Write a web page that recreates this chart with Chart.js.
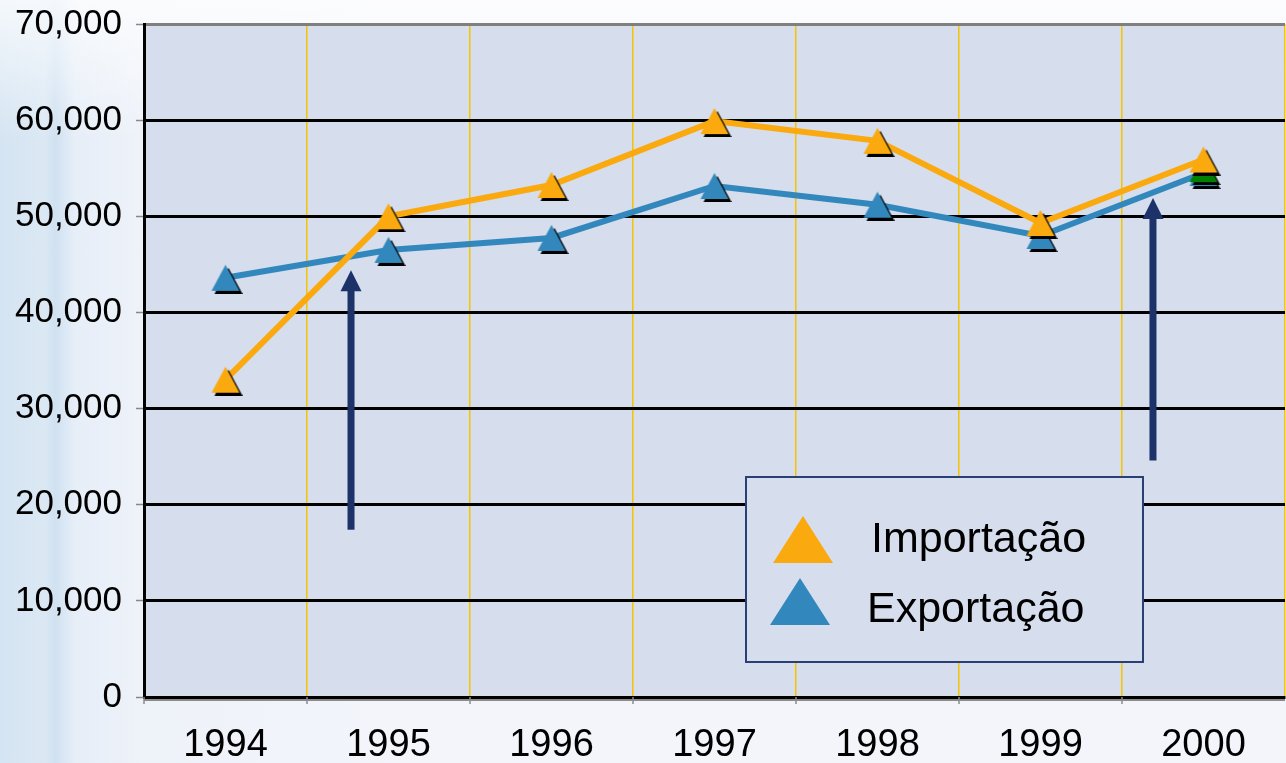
<!DOCTYPE html>
<html>
<head>
<meta charset="utf-8">
<script src="https://cdn.jsdelivr.net/npm/chart.js@4"></script>
<style>
  html, body { margin: 0; padding: 0; }
  body {
    width: 1286px;
    height: 763px;
    overflow: hidden;
    background:
      linear-gradient(180deg, rgba(255,255,255,0.75) 0px, rgba(255,255,255,0) 140px),
      linear-gradient(90deg, #d5e4f2 0px, #dbe8f4 45px, #d0e1f1 55px, #e6eef8 75px, #eef2f9 140px, #f3f5fb 400px);
    font-family: "Liberation Sans", Arial, sans-serif;
  }
  canvas { position: absolute; left: 0; top: 0; }
</style>
</head>
<body>
<canvas id="chart" width="1286" height="763"></canvas>
<script>
const years = ["1994", "1995", "1996", "1997", "1998", "1999", "2000"];
const importacao = [33000, 50000, 53250, 59900, 57850, 49300, 55900];
const exportacao = [43600, 46500, 47750, 53150, 51200, 47950, 54500];
const extra2000 = [null, null, null, null, null, null, 54900];

const yMin = 0;
const yMax = 70000;
const yStep = 10000;

// arrows in data units: x is the category index, y from / to
const arrowX = [0.77, 5.69];
const arrowFrom = [17400, 24600];
const arrowTo = [44400, 51900];

const plotBg = "#d6ddec";
const orange = "#faa90e";
const blue = "#3288bd";
const green = "#008000";
const navy = "#1c3268";

function triangleMarker(color, w, h) {
  const pad = 3;
  const c = document.createElement("canvas");
  c.width = w + pad * 2;
  c.height = h + pad * 2;
  const ctx = c.getContext("2d");
  const tri = (dx, dy, fill) => {
    ctx.beginPath();
    ctx.moveTo(dx + w / 2, dy);
    ctx.lineTo(dx + w, dy + h);
    ctx.lineTo(dx, dy + h);
    ctx.closePath();
    ctx.fillStyle = fill;
    ctx.fill();
  };
  tri(pad * 2, pad * 2, "#000");
  tri(pad, pad, color);
  return c;
}

const plotBackground = {
  id: "plotBackground",
  beforeDraw(chart) {
    const { ctx, chartArea: a } = chart;
    ctx.save();
    ctx.fillStyle = plotBg;
    ctx.fillRect(a.left, a.top, a.right - a.left, a.bottom - a.top);
    ctx.restore();
  },
  afterDraw(chart) {
    const { ctx, chartArea: a, scales } = chart;
    ctx.save();
    ctx.strokeStyle = "#8a8a8a";
    ctx.lineWidth = 2;
    ctx.beginPath();
    ctx.moveTo(a.left, a.bottom + 3);
    ctx.lineTo(a.right, a.bottom + 3);
    ctx.stroke();
    // short tick marks between categories under the x axis
    ctx.lineWidth = 1.5;
    ctx.beginPath();
    for (let i = 0; i < years.length; i++) {
      const x = scales.x.getPixelForValue(i - 0.5);
      ctx.moveTo(x, a.bottom);
      ctx.lineTo(x, a.bottom + 7);
    }
    ctx.stroke();
    ctx.restore();
  }
};

const arrows = {
  id: "arrows",
  afterDatasetsDraw(chart) {
    const { ctx, scales } = chart;
    ctx.save();
    ctx.fillStyle = navy;
    arrowX.forEach((xv, i) => {
      const x = scales.x.getPixelForValue(xv);
      const y0 = scales.y.getPixelForValue(arrowFrom[i]);
      const y1 = scales.y.getPixelForValue(arrowTo[i]);
      const head = 21;
      ctx.fillRect(x - 3.5, y1 + head - 1, 7, y0 - y1 - head + 1);
      ctx.beginPath();
      ctx.moveTo(x, y1);
      ctx.lineTo(x + 10.5, y1 + head);
      ctx.lineTo(x - 10.5, y1 + head);
      ctx.closePath();
      ctx.fill();
    });
    ctx.restore();
  }
};

const legendBox = {
  id: "legendBox",
  afterDraw(chart) {
    const { ctx } = chart;
    ctx.save();
    ctx.fillStyle = plotBg;
    ctx.fillRect(746, 477, 397, 185);
    ctx.strokeStyle = "#2a3f73";
    ctx.lineWidth = 2;
    ctx.strokeRect(746, 477, 397, 185);
    const rows = [
      { label: chart.data.datasets[0].label, color: orange, cx: 803, top: 516, x: 871, base: 552 },
      { label: chart.data.datasets[1].label, color: blue, cx: 800, top: 578, x: 867, base: 622 }
    ];
    rows.forEach((r) => {
      ctx.beginPath();
      ctx.moveTo(r.cx, r.top);
      ctx.lineTo(r.cx + 30, r.top + 47);
      ctx.lineTo(r.cx - 30, r.top + 47);
      ctx.closePath();
      ctx.fillStyle = r.color;
      ctx.fill();
      ctx.fillStyle = "#000";
      ctx.font = "43px 'Liberation Sans', Arial, sans-serif";
      ctx.textBaseline = "alphabetic";
      ctx.textAlign = "left";
      ctx.fillText(r.label, r.x, r.base);
    });
    ctx.restore();
  }
};

new Chart(document.getElementById("chart"), {
  type: "line",
  data: {
    labels: years,
    datasets: [
      {
        label: "Importação",
        data: importacao,
        borderColor: orange,
        borderWidth: 6,
        pointStyle: triangleMarker(orange, 28, 26),
        order: 1
      },
      {
        label: "Exportação",
        data: exportacao,
        borderColor: blue,
        borderWidth: 6,
        pointStyle: triangleMarker(blue, 28, 26),
        order: 3
      },
      {
        label: "",
        data: extra2000,
        showLine: false,
        pointStyle: triangleMarker(green, 28, 26),
        order: 2
      }
    ]
  },
  options: {
    responsive: false,
    animation: false,
    events: [],
    // point radius would otherwise reserve extra room round the plot
    layout: { autoPadding: false, padding: { top: 24, right: 1, left: 0, bottom: 0 } },
    elements: {
      line: { tension: 0 },
      point: { radius: 14, hoverRadius: 14 }
    },
    clip: false,
    scales: {
      x: {
        offset: true,
        afterFit(scale) {
          scale.height = 66;
        },
        grid: {
          offset: true,
          color: "#f5c400",
          lineWidth: 1.5,
          tickLength: 26,
          tickColor: "rgba(0,0,0,0)"
        },
        border: { display: true, color: "#000", width: 3 },
        ticks: {
          color: "#000",
          padding: 0,
          maxRotation: 0,
          font: { family: "'Liberation Sans', Arial, sans-serif", size: 38 }
        }
      },
      y: {
        min: yMin,
        max: yMax,
        afterFit(scale) {
          scale.width = 144;
          scale.paddingTop = 0;
          scale.paddingBottom = 0;
        },
        grid: {
          color: (c) => (c.tick && c.tick.value === yMax ? "#7f7f7f" : "#000"),
          lineWidth: 3,
          tickLength: 8,
          tickColor: "#888",
          tickWidth: 1.5
        },
        border: { display: true, color: "#000", width: 3 },
        ticks: {
          stepSize: yStep,
          color: "#000",
          padding: 14,
          font: { family: "'Liberation Sans', Arial, sans-serif", size: 35 },
          callback: (v) => v.toLocaleString("en-US")
        }
      }
    },
    plugins: {
      legend: { display: false },
      tooltip: { enabled: false }
    }
  },
  plugins: [plotBackground, arrows, legendBox]
});
</script>
</body>
</html>
